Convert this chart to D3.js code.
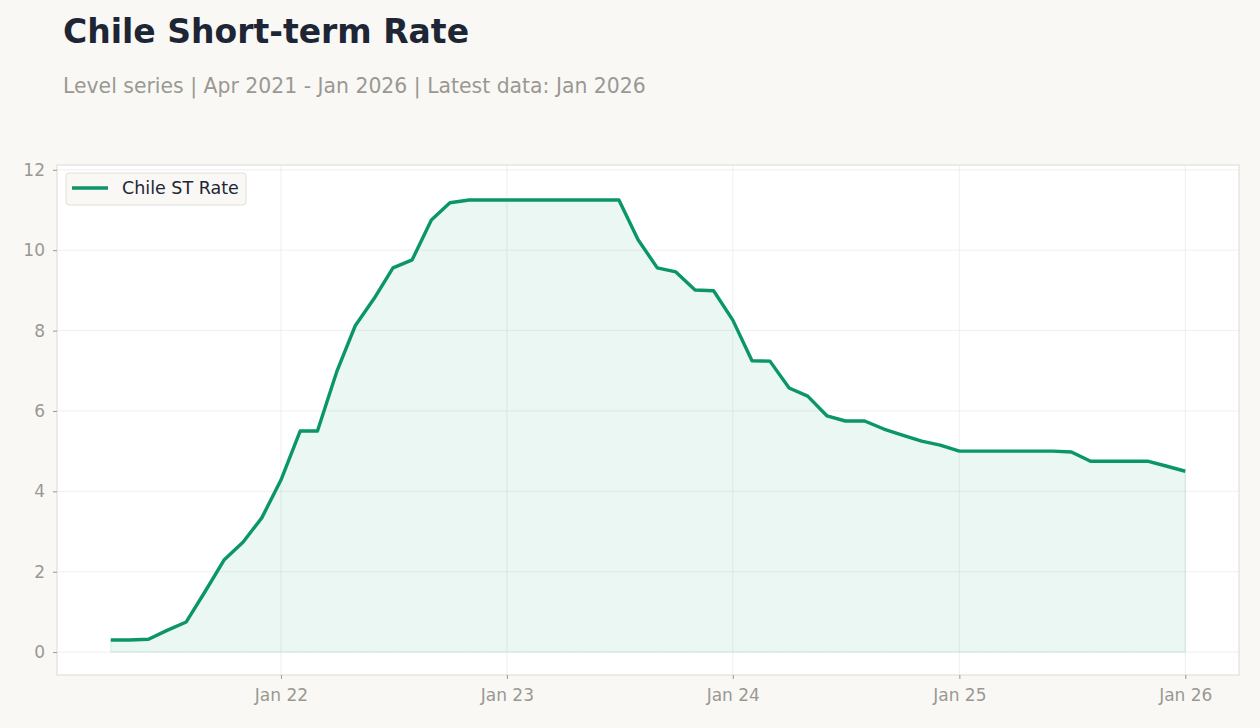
<!DOCTYPE html>
<html>
<head>
<meta charset="utf-8">
<script src="https://cdn.jsdelivr.net/npm/d3@7"></script>
<style>
  html, body { margin: 0; padding: 0; background: #f9f8f5; }
  svg { display: block; font-family: "DejaVu Sans", sans-serif; }
</style>
</head>
<body>
<div id="chart"></div>
<script>
// monthly values, Apr 2021 .. Jan 2026
var months = d3.timeMonths(new Date(2021, 3, 1), new Date(2026, 0, 2));
var rates = [
  0.30, 0.30, 0.32, 0.54, 0.75, 1.52, 2.29, 2.74, 3.34,           // 2021
  4.28, 5.50, 5.50, 6.97, 8.12, 8.81, 9.56, 9.76, 10.75, 11.18, 11.25, 11.25, // 2022
  11.25, 11.25, 11.25, 11.25, 11.25, 11.25, 11.25, 10.26, 9.56, 9.46, 9.01, 8.99, // 2023
  8.26, 7.25, 7.24, 6.57, 6.37, 5.88, 5.75, 5.75, 5.55, 5.40, 5.25, 5.15, // 2024
  5.00, 5.00, 5.00, 5.00, 5.00, 5.00, 4.98, 4.75, 4.75, 4.75, 4.75, 4.63, // 2025
  4.50 // 2026
];
var yTicks = [0, 2, 4, 6, 8, 10, 12];
var xTicks = [new Date(2022, 0, 1), new Date(2023, 0, 1), new Date(2024, 0, 1), new Date(2025, 0, 1), new Date(2026, 0, 1)];
var seriesName = "Chile ST Rate";

var data = months.map(function (d, i) { return { date: d, value: rates[i] }; });

var W = 1260, H = 728;
var margin = { top: 165, right: 21, bottom: 53, left: 57 },
    width = W - margin.left - margin.right,
    height = H - margin.top - margin.bottom;

var svg = d3.select("#chart").append("svg").attr("width", W).attr("height", H);
svg.append("rect").attr("width", W).attr("height", H).attr("fill", "#f9f8f5");

// title block
svg.append("text").attr("x", 63).attr("y", 43).attr("font-size", 33).attr("font-weight", "bold")
  .attr("fill", "#1e2635").text("Chile Short-term Rate");
svg.append("text").attr("x", 63).attr("y", 93).attr("font-size", 20.4).attr("fill", "#9a9893")
  .text("Level series | Apr 2021 - Jan 2026 | Latest data: Jan 2026");

var g = svg.append("g").attr("transform", "translate(" + margin.left + "," + margin.top + ")");

// x domain padded 5% on each side
var t0 = months[0].getTime(), t1 = months[months.length - 1].getTime(), pad = (t1 - t0) * 0.05;
var x = d3.scaleTime().domain([new Date(t0 - pad), new Date(t1 + pad)]).range([0, width]);
var y = d3.scaleLinear().domain([-0.57, 12.12]).range([height, 0]);

g.append("rect").attr("width", width).attr("height", height).attr("fill", "#fff");

// grid
g.append("g").selectAll("line").data(yTicks).enter().append("line")
  .attr("x1", 0).attr("x2", width).attr("y1", function (d) { return y(d); }).attr("y2", function (d) { return y(d); })
  .attr("stroke", "#ebebeb").attr("stroke-width", 0.8);
g.append("g").selectAll("line").data(xTicks).enter().append("line")
  .attr("y1", 0).attr("y2", height).attr("x1", function (d) { return x(d); }).attr("x2", function (d) { return x(d); })
  .attr("stroke", "#ebebeb").attr("stroke-width", 0.8);

// area + line
var area = d3.area().x(function (d) { return x(d.date); }).y0(y(0)).y1(function (d) { return y(d.value); });
var line = d3.line().x(function (d) { return x(d.date); }).y(function (d) { return y(d.value); });

g.append("path").datum(data).attr("d", area).attr("fill", "#059669").attr("fill-opacity", 0.08)
  .attr("stroke", "#059669").attr("stroke-opacity", 0.12).attr("stroke-width", 1);
g.append("path").datum(data).attr("d", line).attr("fill", "none").attr("stroke", "#0a9669")
  .attr("stroke-width", 3.4).attr("stroke-linejoin", "round");

// frame
g.append("rect").attr("width", width).attr("height", height).attr("fill", "none").attr("stroke", "#dcdad5");

// axes
var yAxis = g.append("g").call(d3.axisLeft(y).tickValues(yTicks).tickSize(4).tickPadding(8).tickFormat(d3.format("d")));
var xAxis = g.append("g").attr("transform", "translate(0," + height + ")")
  .call(d3.axisBottom(x).tickValues(xTicks).tickSize(4).tickPadding(10).tickFormat(d3.timeFormat("Jan %y")));
[xAxis, yAxis].forEach(function (a) {
  a.select(".domain").remove();
  a.selectAll(".tick line").attr("stroke", "#9a9893");
  a.selectAll(".tick text").attr("fill", "#9a9893").attr("font-size", 17).attr("font-family", "DejaVu Sans, sans-serif");
});

// legend
var lg = g.append("g").attr("transform", "translate(9,8)");
lg.append("rect").attr("width", 180).attr("height", 32).attr("rx", 3)
  .attr("fill", "#f9f8f5").attr("stroke", "#e3e0d9");
lg.append("line").attr("x1", 6).attr("x2", 42).attr("y1", 15).attr("y2", 15)
  .attr("stroke", "#0a9669").attr("stroke-width", 3.4);
lg.append("text").attr("x", 56).attr("y", 21).attr("font-size", 17.5).attr("fill", "#1e2635").text(seriesName);
</script>
</body>
</html>
